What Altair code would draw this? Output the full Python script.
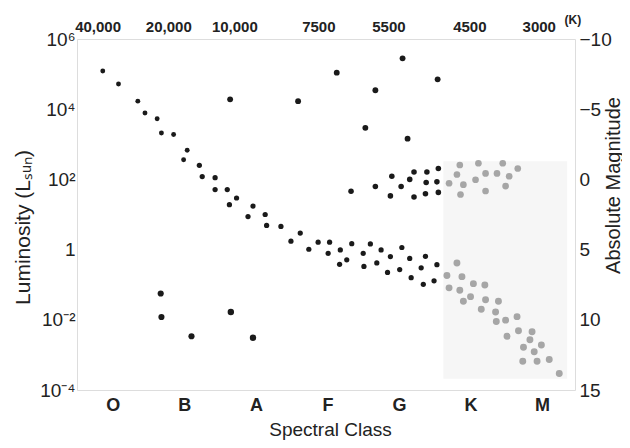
import altair as alt
import pandas as pd

# Spectral-class position (O=0 ... M=6) and log10 luminosity (L_sun)
ms_hot_x = [-0.14, 0.08, 0.35, 0.45, 0.62, 0.68, 0.85, 1.04, 0.99]
ms_hot_y = [5.09, 4.72, 4.23, 3.89, 3.73, 3.32, 3.28, 2.83, 2.56]

ms_x = [1.21, 1.25, 1.43, 1.43, 1.60, 1.73, 1.63, 1.89, 1.96, 2.13, 2.15, 2.35, 2.49, 2.62,
        2.74, 2.87, 3.03, 3.01, 3.18, 3.17, 3.27, 3.34, 3.50, 3.51, 3.60, 3.69, 3.75, 3.88,
        3.84, 4.04, 4.01, 4.15, 4.17, 4.31, 4.37, 4.53, 4.34, 4.49]
ms_y = [2.40, 2.08, 2.05, 1.71, 1.71, 1.47, 1.28, 0.94, 1.24, 1.00, 0.69, 0.66, 0.24, 0.47,
        0.01, 0.21, 0.21, -0.11, -0.01, -0.42, -0.29, 0.17, -0.11, -0.48, 0.16, -0.38, -0.01, -0.20,
        -0.65, 0.06, -0.57, -0.25, -0.80, -0.52, -0.19, -0.43, -0.99, -0.89]

giant_x = [3.33, 3.67, 3.90, 3.88, 4.03, 4.15, 4.21, 4.39, 4.55, 4.38, 4.53, 4.21, 4.37, 4.55]
giant_y = [1.66, 1.80, 2.09, 1.53, 1.80, 2.00, 2.21, 2.21, 2.31, 1.91, 1.93, 1.50, 1.59, 1.63]

super_x = [1.64, 2.59, 3.13, 3.67, 4.05, 3.53, 4.12, 4.54]
super_y = [4.28, 4.23, 5.04, 4.54, 5.45, 3.47, 3.16, 4.85]

wd_small_x = [0.67, 0.68, 1.10]
wd_small_y = [-1.25, -1.92, -2.47]
wd_x = [1.65, 1.96]
wd_y = [-1.78, -2.51]

km_giant_x = [4.85, 5.11, 5.45, 5.66, 4.81, 5.21, 5.37, 5.54, 4.70, 4.90, 5.07, 5.49, 5.21, 4.86]
km_giant_y = [2.41, 2.46, 2.46, 2.31, 2.14, 2.17, 2.17, 2.09, 1.89, 1.85, 1.99, 1.81, 1.67, 1.57]

km_dwarf_x = [4.81, 4.67, 4.88, 5.04, 5.20, 4.70, 4.85, 5.00, 4.90, 5.21, 5.39, 5.15, 5.35, 5.36,
              5.49, 5.65, 5.51, 5.67, 5.86, 5.83, 5.74, 5.99, 5.89, 5.73, 5.93, 6.10, 6.24]
km_dwarf_y = [-0.38, -0.74, -0.77, -0.97, -1.01, -1.09, -1.16, -1.34, -1.47, -1.43, -1.47, -1.70,
              -1.78, -2.05, -2.01, -1.91, -2.47, -2.31, -2.34, -2.57, -2.78, -2.72, -2.91, -3.18,
              -3.18, -3.13, -3.53]

# shaded K/M region
region_x = [4.62]
region_x2 = [6.35]
region_y = [2.52]
region_y2 = [-3.68]

classes = ["O", "B", "A", "F", "G", "K", "M"]
class_pos = [0, 1, 2, 3, 4, 5, 6]
lum_ticks = [-4, -2, 0, 2, 4, 6]
lum_labels = ["10⁻⁴", "10⁻²", "1", "10²", "10⁴", "10⁶"]
mag_ticks = [-10, -5, 0, 5, 10, 15]
temp_pos = [-0.205, 0.783, 1.706, 2.88, 3.86, 4.99, 5.96]
temp_labels = ["40,000", "20,000", "10,000", "7500", "5500", "4500", "3000"]

groups = [
    ("ms_hot", ms_hot_x, ms_hot_y),
    ("ms", ms_x, ms_y),
    ("giant", giant_x, giant_y),
    ("super", super_x, super_y),
    ("wd_small", wd_small_x, wd_small_y),
    ("wd", wd_x, wd_y),
    ("km_giant", km_giant_x, km_giant_y),
    ("km_dwarf", km_dwarf_x, km_dwarf_y),
]
rows = []
for g, xs, ys in groups:
    for a, b in zip(xs, ys):
        rows.append({"cls": a, "logL": b, "group": g})
stars = pd.DataFrame(rows)

group_names = [g[0] for g in groups]
dark = "#1a1a1a"
gray = "#a6a6a6"
color_range = [dark, dark, dark, dark, dark, dark, gray, gray]
size_range = [24, 48, 52, 52, 24, 50, 46, 46]

FONT = "Liberation Sans"

def ternary(values, labels):
    expr = "''"
    for v, l in zip(values, labels):
        expr = f"datum.value == {v} ? '{l}' : ({expr})"
    return expr

x_scale = alt.Scale(domain=[-0.5, 6.46], nice=False, zero=False)
y_scale = alt.Scale(domain=[-4, 6], nice=False, zero=False)

x_axis = alt.Axis(values=class_pos, labelExpr=ternary(class_pos, classes), title="Spectral Class",
                  grid=False, ticks=False, domain=False, labelPadding=6,
                  labelFont=FONT, labelFontSize=18, labelFontWeight="bold", labelColor="#222",
                  titleFont=FONT, titleFontSize=19, titleFontWeight="normal", titleColor="#222",
                  titleX=253, titleY=39, titleBaseline="middle", titleAlign="center")
y_axis = alt.Axis(values=lum_ticks, labelExpr=ternary(lum_ticks, lum_labels), title="Luminosity (Lₛᵤₙ)",
                  grid=False, ticks=False, domain=False, labelPadding=2,
                  labelFont=FONT, labelFontSize=19, labelColor="#222",
                  titleFont=FONT, titleFontSize=21, titleFontWeight="normal", titleColor="#222",
                  titleX=-54, titleY=188, titleAngle=270, titleBaseline="middle", titleAlign="center")

region_df = pd.DataFrame({"x": region_x, "x2": region_x2, "y": region_y, "y2": region_y2})
region = alt.Chart(region_df).mark_rect(color="#f6f6f6").encode(
    x=alt.X("x:Q", scale=x_scale, axis=x_axis),
    x2="x2:Q",
    y=alt.Y("y:Q", scale=y_scale, axis=y_axis),
    y2="y2:Q",
)

points = alt.Chart(stars).mark_circle(opacity=1).encode(
    x=alt.X("cls:Q", scale=x_scale),
    y=alt.Y("logL:Q", scale=y_scale),
    color=alt.Color("group:N", scale=alt.Scale(domain=group_names, range=color_range), legend=None),
    size=alt.Size("group:N", scale=alt.Scale(domain=group_names, range=size_range), legend=None),
)

temp_df = pd.DataFrame({"pos": temp_pos, "label": temp_labels})
temps = alt.Chart(temp_df).mark_text(font=FONT, fontSize=15, fontWeight="bold", color="#222",
                                     baseline="middle").encode(
    x=alt.X("pos:Q", scale=x_scale),
    y=alt.value(-12),
    text="label:N",
)
kelvin = alt.Chart(pd.DataFrame({"pos": [6.43], "label": ["(K)"]})).mark_text(
    font=FONT, fontSize=12, fontWeight="bold", color="#222", baseline="middle").encode(
    x=alt.X("pos:Q", scale=x_scale),
    y=alt.value(-19),
    text="label:N",
)

lum_layer = alt.layer(region, points, temps, kelvin)

mag_df = pd.DataFrame({"mag": mag_ticks})
mag = alt.Chart(mag_df).mark_point(opacity=0).encode(
    y=alt.Y("mag:Q", scale=alt.Scale(domain=[-10, 15], reverse=True, nice=False, zero=False),
            axis=alt.Axis(orient="right", values=mag_ticks, title="Absolute Magnitude",
                          grid=False, ticks=False, domain=False, labelPadding=4,
                          labelFont=FONT, labelFontSize=19, labelColor="#222",
                          titleFont=FONT, titleFontSize=20, titleFontWeight="normal", titleColor="#222",
                          titleX=38, titleY=146, titleAngle=270, titleBaseline="middle",
                          titleAlign="center")),
)

chart = alt.layer(lum_layer, mag).resolve_scale(y="independent").properties(
    width=498, height=351,
    autosize=alt.AutoSizeParams(type="none"),
    padding={"left": 69, "top": 31, "right": 47, "bottom": 50},
).configure_view(stroke="#222", strokeWidth=1.6).configure(background="white")

chart.save("out.html", embed_options={"renderer": "svg", "actions": False})
